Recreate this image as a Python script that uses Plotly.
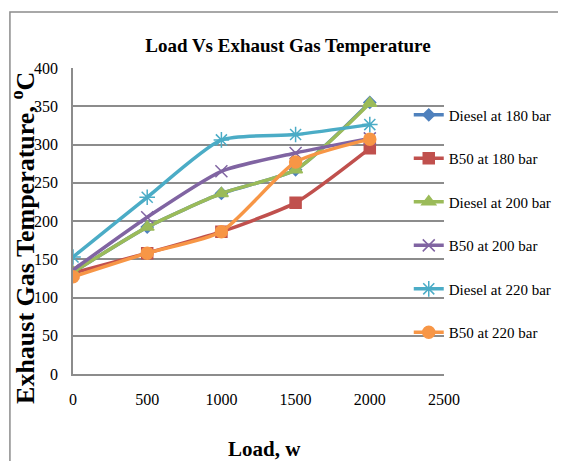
"""Load vs exhaust gas temperature for diesel and B50 at three injection pressures"""
import plotly.graph_objects as go

# data
LOAD = [0, 500, 1000, 1500, 2000]
DIESEL_180 = [133, 192, 236, 267, 355]
B50_180 = [132, 158, 186, 224, 295]
DIESEL_200 = [133, 192, 236, 267, 354]
B50_200 = [136, 205, 265, 289, 308]
DIESEL_220 = [153, 231, 306, 313, 326]
B50_220 = [127, 158, 186, 277, 307]

SERIES = [
    ("Diesel at 180 bar", DIESEL_180, "#4F81BD", "diamond", 9),
    ("B50 at 180 bar", B50_180, "#C0504D", "square", 11),
    ("Diesel at 200 bar", DIESEL_200, "#9BBB59", "triangle-up", 12),
    ("B50 at 200 bar", B50_200, "#8064A2", "x-thin-open", 12),
    ("Diesel at 220 bar", DIESEL_220, "#4BACC6", "asterisk-open", 13),
    ("B50 at 220 bar", B50_220, "#F79646", "circle", 12),
]

FONT = "Liberation Serif, Times New Roman, serif"
GRID = "#8c8c8c"

fig = go.Figure()
for i, (name, vals, color, symbol, size) in enumerate(SERIES):
    fig.add_trace(
        go.Scatter(
            x=LOAD,
            y=vals,
            name=name,
            mode="lines+markers",
            line=dict(color=color, width=3.5, shape="spline", smoothing=0.6),
            marker=dict(symbol=symbol, size=size, color=color, line=dict(color=color, width=1.5)),
            legendgroup=f"g{i}",
        )
    )

fig.update_xaxes(
    range=[0, 2500],
    tickvals=[0, 500, 1000, 1500, 2000, 2500],
    showgrid=False,
    showline=True,
    linecolor=GRID,
    linewidth=1.5,
    zeroline=False,
    ticks="",
    ticklabelstandoff=10,
    tickfont=dict(family=FONT, size=16, color="black"),
    automargin=False,
)
fig.update_yaxes(
    range=[0, 400],
    tickvals=list(range(0, 401, 50)),
    showgrid=True,
    gridcolor=GRID,
    gridwidth=1.5,
    showline=True,
    linecolor=GRID,
    linewidth=1.5,
    zeroline=False,
    ticks="",
    ticklabelstandoff=10,
    tickfont=dict(family=FONT, size=16, color="black"),
    automargin=False,
)

# axis titles as annotations so they sit where the reference has them
fig.add_annotation(
    text="<b>Exhaust Gas Temperature, <sup>o</sup>C</b>",
    xref="paper", yref="paper", x=-0.135, y=0.4444,
    xanchor="center", yanchor="middle", textangle=-90, showarrow=False,
    font=dict(family=FONT, size=26, color="black"),
)
fig.add_annotation(
    text="<b>Load, w</b>",
    xref="paper", yref="paper", x=0.5175, y=-0.245,
    xanchor="center", yanchor="middle", showarrow=False,
    font=dict(family=FONT, size=21, color="black"),
)

# outer chart border (only its left and top edges fall inside the page)
fig.add_shape(
    type="rect", xref="paper", yref="paper",
    x0=-0.17, y0=-0.6, x1=2.0, y1=1.183,
    line=dict(color="#8c8c8c", width=1.5), layer="below",
)

# page body adds 8px around the div; keep the figure inside the window
fig.update_layout(
    width=550,
    height=453,
    margin=dict(l=65, r=114, t=60, b=87, autoexpand=False),
    title=dict(
        text="<b>Load Vs Exhaust Gas Temperature</b>",
        x=0.509, xref="container", xanchor="center",
        y=0.918, yref="container", yanchor="middle",
        font=dict(family=FONT, size=19, color="black"),
    ),
    plot_bgcolor="white",
    paper_bgcolor="white",
    legend=dict(
        x=0.905, xanchor="left", y=0.9, yanchor="top",
        font=dict(family=FONT, size=15, color="black"),
        tracegroupgap=21,
        itemwidth=30,
        bgcolor="rgba(0,0,0,0)",
    ),
    showlegend=True,
)

fig.write_html("out.html")
